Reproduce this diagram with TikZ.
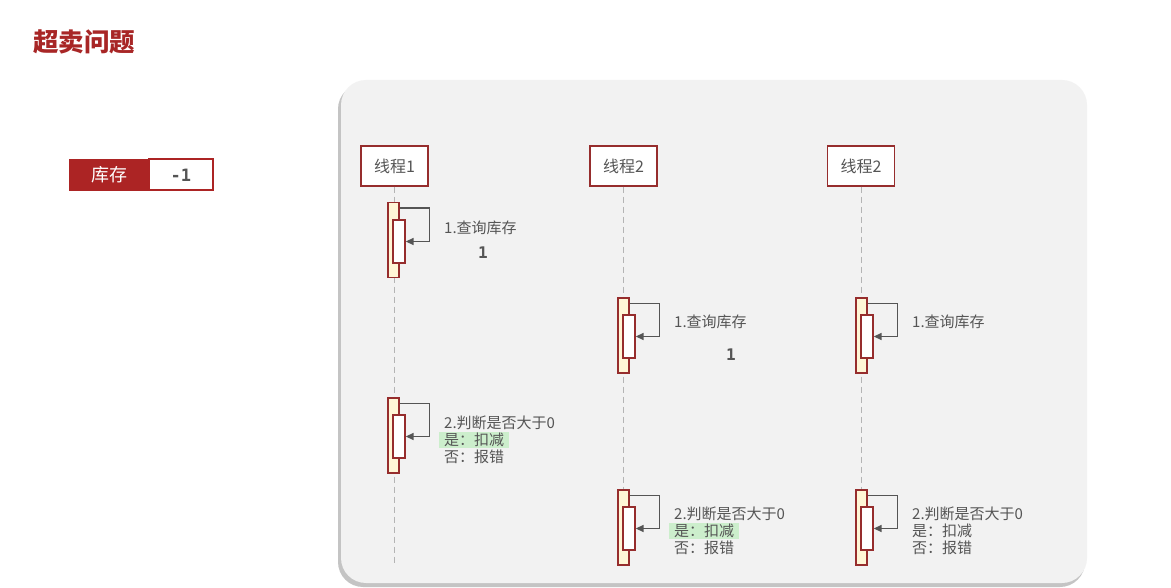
\documentclass[tikz,border=0pt]{standalone}
\usepackage{fontspec}
\setmainfont{Noto Sans CJK SC}
\newfontfamily\monofont{DejaVu Sans Mono}
\usetikzlibrary{positioning,arrows.meta}
\definecolor{titlered}{RGB}{168,38,38}
\definecolor{boxred}{RGB}{150,45,45}
\definecolor{stockred}{RGB}{172,36,36}
\definecolor{panelgray}{RGB}{242,242,242}
\definecolor{shadowgray}{RGB}{196,196,196}
\definecolor{notegray}{RGB}{85,85,85}
\definecolor{barfill}{RGB}{255,246,214}
\definecolor{hlgreen}{RGB}{204,238,204}
\definecolor{linegray}{RGB}{180,180,180}
\tikzset{
  thread/.style={draw=boxred,line width=1.3pt,fill=white,minimum width=67pt,minimum height=40pt,inner sep=0pt,font=\fontsize{16}{18}\selectfont,text=notegray},
  lifeline/.style={draw=linegray,line width=1pt,dash pattern=on 6pt off 4pt},
  actout/.style={draw=boxred,line width=1.3pt,fill=barfill,minimum width=11pt,minimum height=75pt,inner sep=0pt},
  actin/.style={draw=boxred,line width=1.3pt,fill=white,minimum width=12pt,minimum height=43pt,inner sep=0pt},
  selfmsg/.style={draw=notegray,line width=1.4pt,-{Triangle[length=8pt,width=7pt]}},
  note/.style={anchor=west,inner sep=0pt,text=notegray,font=\fontsize{15}{17}\selectfont},
  hl/.style={fill=hlgreen,inner xsep=5pt,inner ysep=1.5pt},
  count/.style={text=notegray,font=\monofont\bfseries\fontsize{16}{18}\selectfont}
}
\begin{document}
\begin{tikzpicture}[x=1pt,y=-1pt]
\useasboundingbox (0,0) rectangle (1171,588);
\fill[white] (0,0) rectangle (1171,588);
% title and stock counter
\node[anchor=west,inner sep=0pt,text=titlered,font=\bfseries\fontsize{25.5}{28}\selectfont] (title) at (33,42) {超卖问题};
\node[fill=stockred,draw=stockred,line width=1.5pt,minimum width=78pt,minimum height=31pt,inner sep=0pt,text=white,font=\fontsize{18}{20}\selectfont] (stock) at (109,175) {库存};
\node[fill=white,draw=stockred,line width=2pt,minimum width=64pt,minimum height=31pt,inner sep=0pt,text=notegray,font=\monofont\bfseries\fontsize{17}{19}\selectfont,right=-1pt of stock] (stockval) {-1\hspace{12pt}};
% panel
\fill[shadowgray,rounded corners=25pt] (338,84) rectangle (1085,587);
\fill[panelgray,rounded corners=25pt] (341,80) rectangle (1087,583);
% threads and lifelines
\node[thread] (t1) at (394.5,166) {线程1};
\node[thread] (t2) at (623.5,166) {线程2};
\node[thread] (t3) at (861,166) {线程2};
\coordinate (e1) at (394.5,566);
\coordinate (e2) at (623.5,566);
\coordinate (e3) at (861,566);
\draw[lifeline] (t1) -- (e1);
\draw[lifeline] (t2) -- (e2);
\draw[lifeline] (t3) -- (e3);
% thread 1
\node[actout] (q1o) at (393.5,240) {};
\node[actin] (q1i) at (399,241.5) {};
\draw[selfmsg] ([yshift=-6pt]q1o.north east) -- ++(30,0) |- (q1i.east);
\node[note] (n1) at (444,228) {1.查询库存};
\node[count] (c1) at (483,253) {1};
\node[actout] (d1o) at (393.5,435.5) {};
\node[actin] (d1i) at (399,436.5) {};
\draw[selfmsg] ([yshift=-6pt]d1o.north east) -- ++(30,0) |- (d1i.east);
\node[note] (m1) at (444,423) {2.判断是否大于0};
\node[note,hl] (y1) at (439,440) {是：扣减};
\node[note] (x1) at (444,457) {否：报错};
% thread 2
\node[actout] (q2o) at (623.5,335.5) {};
\node[actin] (q2i) at (629,336.5) {};
\draw[selfmsg] ([yshift=-6pt]q2o.north east) -- ++(30,0) |- (q2i.east);
\node[note] (n2) at (674,322) {1.查询库存};
\node[count] (c2) at (731,355) {1};
\node[actout] (d2o) at (623.5,527.5) {};
\node[actin] (d2i) at (629,528.5) {};
\draw[selfmsg] ([yshift=-6pt]d2o.north east) -- ++(30,0) |- (d2i.east);
\node[note] (m2) at (674,514) {2.判断是否大于0};
\node[note,hl] (y2) at (669,531) {是：扣减};
\node[note] (x2) at (674,548) {否：报错};
% thread 3
\node[actout] (q3o) at (861.5,335.5) {};
\node[actin] (q3i) at (867,336.5) {};
\draw[selfmsg] ([yshift=-6pt]q3o.north east) -- ++(30,0) |- (q3i.east);
\node[note] (n3) at (912,322) {1.查询库存};
\node[actout] (d3o) at (861.5,527.5) {};
\node[actin] (d3i) at (867,528.5) {};
\draw[selfmsg] ([yshift=-6pt]d3o.north east) -- ++(30,0) |- (d3i.east);
\node[note] (m3) at (912,514) {2.判断是否大于0};
\node[note] (y3) at (912,531) {是：扣减};
\node[note] (x3) at (912,548) {否：报错};
\end{tikzpicture}
\end{document}
